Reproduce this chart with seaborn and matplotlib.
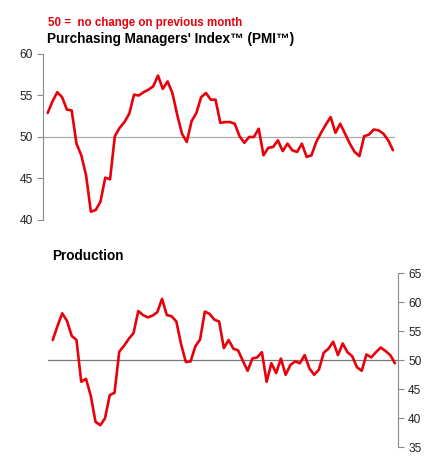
import numpy as np
import pandas as pd
import matplotlib
matplotlib.use("Agg")
import matplotlib.pyplot as plt
import seaborn as sns

# monthly index values (73 months)
pmi = [52.9, 54.3, 55.4, 54.8, 53.3, 53.2, 49.2, 47.8, 45.4, 41.0,
       41.2, 42.2, 45.1, 44.9, 50.1, 51.1, 51.8, 52.8, 55.1, 55.0,
       55.4, 55.7, 56.1, 57.4, 55.8, 56.7, 55.3, 52.7, 50.4, 49.4,
       51.9, 52.9, 54.8, 55.3, 54.5, 54.5, 51.7, 51.8, 51.8, 51.6,
       50.1, 49.3, 50.0, 50.0, 51.0, 47.8, 48.7, 48.8, 49.6, 48.3,
       49.2, 48.4, 48.2, 49.2, 47.6, 47.8, 49.4, 50.5, 51.5, 52.4,
       50.5, 51.6, 50.4, 49.2, 48.2, 47.7, 50.1, 50.3, 50.9, 50.8,
       50.4, 49.6, 48.4]
production = [53.5, 55.9, 58.1, 56.8, 54.2, 53.5, 46.3, 46.8, 43.9, 39.4,
              38.8, 40.0, 44.0, 44.4, 51.5, 52.5, 53.7, 54.7, 58.5, 57.8,
              57.4, 57.7, 58.3, 60.6, 57.8, 57.6, 56.7, 52.8, 49.7, 49.8,
              52.4, 53.6, 58.4, 58.0, 57.0, 56.7, 52.1, 53.5, 52.0, 51.7,
              49.9, 48.2, 50.3, 50.5, 51.4, 46.3, 49.5, 47.8, 50.3, 47.5,
              49.2, 49.8, 49.5, 50.9, 48.6, 47.5, 48.4, 51.3, 52.0, 53.2,
              50.9, 52.9, 51.4, 50.7, 48.8, 48.2, 51.0, 50.5, 51.4, 52.2,
              51.6, 50.9, 49.5]
pmi_ticks = [40, 45, 50, 55, 60]
prod_ticks = [35, 40, 45, 50, 55, 60, 65]

df = pd.DataFrame({"month": np.arange(len(pmi)), "pmi": pmi, "production": production})

sns.set_theme(style="white")
plt.rcParams["font.family"] = ["Liberation Sans", "DejaVu Sans"]

RED = "#e8000b"
GREY = "#8c8c8c"
W, H = 443, 466

fig = plt.figure(figsize=(W / 100, H / 100), dpi=100)

# top panel: PMI, axis on the left
ax1 = fig.add_axes([43 / W, (H - 220) / H, (395 - 43) / W, 166 / H])
ax1.axhline(50, color="#aaaaaa", lw=0.9, zorder=1)
sns.lineplot(data=df, x="month", y="pmi", ax=ax1, color=RED, lw=1.9, zorder=3)
ax1.set_xlim(-0.98, 72.42)
ax1.set_ylim(40, 60)
ax1.set_yticks(pmi_ticks)
ax1.set_xticks([])
ax1.set_xlabel("")
ax1.set_ylabel("")
for s in ["top", "right", "bottom"]:
    ax1.spines[s].set_visible(False)
ax1.spines["left"].set_color(GREY)
ax1.spines["left"].set_linewidth(0.8)
ax1.tick_params(axis="y", left=True, length=4, width=0.8, color=GREY,
                labelsize=8.6, pad=3.5, labelcolor="#222222")

fig.text(48 / W, 1 - 23 / H, "50 =  no change on previous month", color=RED,
         fontsize=8.3, fontweight="bold", va="center", ha="left")
fig.text(47 / W, 1 - 39.5 / H, "Purchasing Managers' Index\u2122 (PMI\u2122)",
         color="black", fontsize=9.8, fontweight="bold", va="center", ha="left")

# bottom panel: Production, axis on the right
ax2 = fig.add_axes([48.3 / W, 18.7 / H, (397.7 - 48.3) / W, 174 / H])
ax2.axhline(50, color="#777777", lw=0.9, zorder=1)
sns.lineplot(data=df, x="month", y="production", ax=ax2, color=RED, lw=1.9, zorder=3)
ax2.set_xlim(-0.93, 72.57)
ax2.set_ylim(35, 65)
ax2.set_yticks(prod_ticks)
ax2.set_xticks([])
ax2.set_xlabel("")
ax2.set_ylabel("")
ax2.yaxis.tick_right()
for s in ["top", "left", "bottom"]:
    ax2.spines[s].set_visible(False)
ax2.spines["right"].set_color(GREY)
ax2.spines["right"].set_linewidth(0.8)
ax2.tick_params(axis="y", right=True, left=False, length=4, width=0.8, color=GREY,
                labelsize=8.6, pad=3.5, labelcolor="#222222")

fig.text(52 / W, 1 - 256 / H, "Production", color="black", fontsize=9.8,
         fontweight="bold", va="center", ha="left")

fig.savefig("out.png", dpi=100, facecolor="white")
